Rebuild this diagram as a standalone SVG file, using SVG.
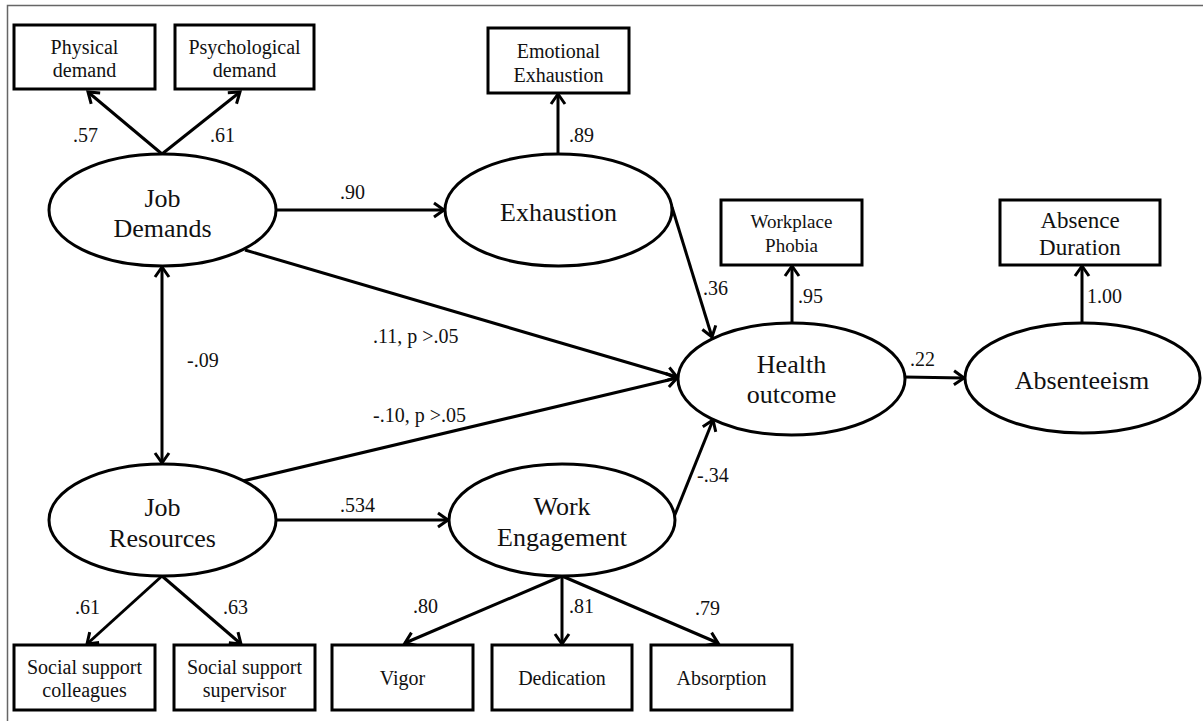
<svg xmlns="http://www.w3.org/2000/svg" width="1203" height="721" viewBox="0 0 1203 721">
<style>
text{font-family:"Liberation Serif","Times New Roman",serif;fill:#111}
.box rect{fill:#fff;stroke:#000;stroke-width:3}
.box text{font-size:20px;text-anchor:middle}
.lat ellipse{fill:#fff;stroke:#000;stroke-width:3}
.lat text{font-size:26px;text-anchor:middle}
.conn line{stroke:#000;stroke-width:3;marker-end:url(#ah)}
.conn line.both{marker-start:url(#ah2)}
.lbl{font-size:20px}
</style>
<defs>
<marker id="ah" markerUnits="userSpaceOnUse" viewBox="-12 -9 14 18" refX="0" refY="0" markerWidth="14" markerHeight="18" orient="auto" overflow="visible">
<path d="M-10,-7 L0,0 L-10,7" fill="none" stroke="#000" stroke-width="3"/>
</marker>
<marker id="ah2" markerUnits="userSpaceOnUse" viewBox="-12 -9 14 18" refX="0" refY="0" markerWidth="14" markerHeight="18" orient="auto-start-reverse" overflow="visible">
<path d="M-10,-7 L0,0 L-10,7" fill="none" stroke="#000" stroke-width="3"/>
</marker>
</defs>
<rect x="0" y="0" width="1203" height="721" fill="#fff"/>
<rect x="7.5" y="5.5" width="1200" height="720" fill="none" stroke="#666" stroke-width="1.5"/>

<g id="connectors" class="conn">
<line x1="162" y1="154" x2="88" y2="92"/>
<line x1="162" y1="154" x2="240" y2="92"/>
<line x1="276" y1="210" x2="444" y2="210"/>
<line x1="558" y1="154" x2="558" y2="94"/>
<line x1="672" y1="207" x2="712" y2="337"/>
<line x1="245" y1="250" x2="677" y2="377"/>
<line x1="243" y1="481" x2="677" y2="378"/>
<line class="both" x1="162" y1="267" x2="162" y2="463"/>
<line x1="276" y1="520" x2="448" y2="520"/>
<line x1="162" y1="576" x2="87" y2="644"/>
<line x1="162" y1="576" x2="241" y2="644"/>
<line x1="562" y1="576" x2="405" y2="643"/>
<line x1="562" y1="576" x2="562" y2="644"/>
<line x1="562" y1="576" x2="718" y2="643"/>
<line x1="674" y1="517" x2="713" y2="420"/>
<line x1="792" y1="323" x2="792" y2="266"/>
<line x1="904" y1="377" x2="964" y2="378"/>
<line x1="1082" y1="323" x2="1082" y2="266"/>
</g>

<g id="labels" class="lbl">
<text x="73" y="142">.57</text>
<text x="210" y="142">.61</text>
<text x="340" y="199">.90</text>
<text x="569" y="142">.89</text>
<text x="703" y="295">.36</text>
<text x="798" y="303">.95</text>
<text x="910" y="366">.22</text>
<text x="1087" y="303">1.00</text>
<text x="373" y="343">.11, p &gt;.05</text>
<text x="373" y="422">-.10, p &gt;.05</text>
<text x="187" y="367">-.09</text>
<text x="340" y="512">.534</text>
<text x="75" y="614">.61</text>
<text x="223" y="614">.63</text>
<text x="697" y="482">-.34</text>
<text x="413" y="613">.80</text>
<text x="569" y="613">.81</text>
<text x="695" y="615">.79</text>
</g>

<g id="physical-demand" class="box"><rect x="14" y="25" width="141" height="64"/><text x="84.5" y="54">Physical</text><text x="84.5" y="77">demand</text></g>
<g id="psychological-demand" class="box"><rect x="175" y="25" width="139" height="64"/><text x="244.5" y="54">Psychological</text><text x="244.5" y="77">demand</text></g>
<g id="emotional-exhaustion" class="box"><rect x="488" y="28" width="141" height="65"/><text x="558.5" y="58">Emotional</text><text x="558.5" y="82">Exhaustion</text></g>
<g id="workplace-phobia" class="box"><rect x="721" y="200" width="141" height="65"/><text x="791.5" y="228" style="font-size:19px">Workplace</text><text x="791.5" y="252" style="font-size:19px">Phobia</text></g>
<g id="absence-duration" class="box"><rect x="1000" y="200" width="160" height="65"/><text x="1080" y="228" style="font-size:23px">Absence</text><text x="1080" y="255" style="font-size:23px">Duration</text></g>
<g id="social-support-colleagues" class="box"><rect x="14" y="645" width="141" height="65"/><text x="84.5" y="674">Social support</text><text x="84.5" y="697">colleagues</text></g>
<g id="social-support-supervisor" class="box"><rect x="174" y="645" width="141" height="65"/><text x="244.5" y="674">Social support</text><text x="244.5" y="697">supervisor</text></g>
<g id="vigor" class="box"><rect x="332" y="645" width="141" height="65"/><text x="402.5" y="685">Vigor</text></g>
<g id="dedication" class="box"><rect x="492" y="645" width="140" height="65"/><text x="562" y="685">Dedication</text></g>
<g id="absorption" class="box"><rect x="651" y="645" width="141" height="65"/><text x="721.5" y="685">Absorption</text></g>

<g id="job-demands" class="lat"><ellipse cx="162.5" cy="210" rx="113.5" ry="56"/><text x="162.5" y="207">Job</text><text x="162.5" y="237">Demands</text></g>
<g id="exhaustion" class="lat"><ellipse cx="558.5" cy="210" rx="113.5" ry="56"/><text x="558.5" y="221">Exhaustion</text></g>
<g id="job-resources" class="lat"><ellipse cx="162.5" cy="520" rx="113.5" ry="56"/><text x="162.5" y="516">Job</text><text x="162.5" y="547">Resources</text></g>
<g id="work-engagement" class="lat"><ellipse cx="562" cy="520" rx="113" ry="56"/><text x="562" y="515">Work</text><text x="562" y="546">Engagement</text></g>
<g id="health-outcome" class="lat"><ellipse cx="791.5" cy="379" rx="113.5" ry="56"/><text x="791.5" y="373">Health</text><text x="791.5" y="403">outcome</text></g>
<g id="absenteeism" class="lat"><ellipse cx="1082.5" cy="378" rx="117.5" ry="55"/><text x="1082" y="389">Absenteeism</text></g>
</svg>
